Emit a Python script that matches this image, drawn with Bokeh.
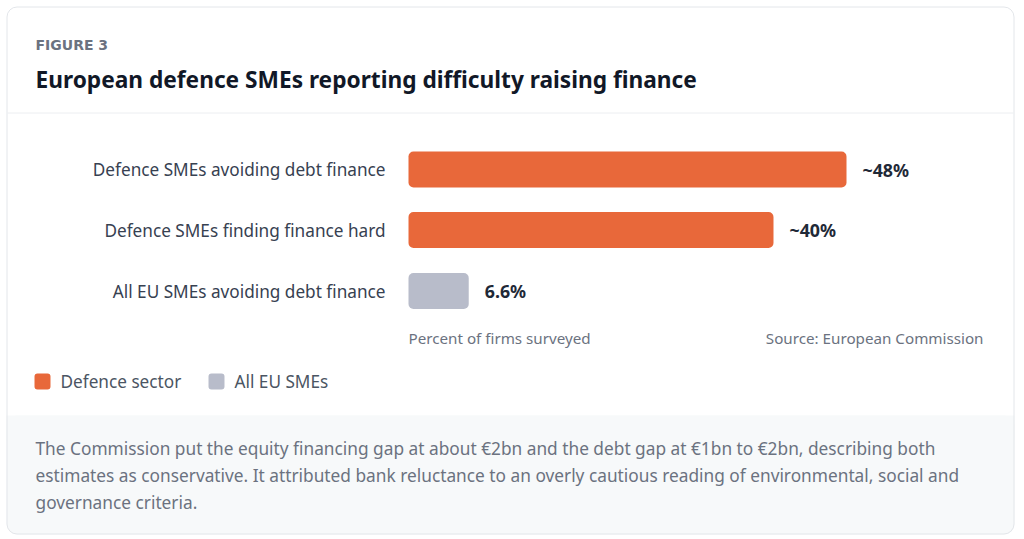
from bokeh.plotting import figure
from bokeh.models import Range1d, ColumnDataSource
from bokeh.core.properties import value
from bokeh.embed import file_html
from bokeh.resources import INLINE

# ---- data ----
categories = ["Defence SMEs avoiding debt finance",
              "Defence SMEs finding finance hard",
              "All EU SMEs avoiding debt finance"]
values = [48, 40, 6.6]
value_labels = ["~48%", "~40%", "6.6%"]
groups = ["Defence sector", "Defence sector", "All EU SMEs"]
legend_labels = ["Defence sector", "All EU SMEs"]
legend_colors = ["#e8683a", "#b8bcca"]
fig_label = "FIGURE 3"
title = "European defence SMEs reporting difficulty raising finance"
axis_caption = "Percent of firms surveyed"
source_text = "Source: European Commission"
note_lines = [
    "The Commission put the equity financing gap at about \u20ac2bn and the debt gap at \u20ac1bn to \u20ac2bn, describing both",
    "estimates as conservative. It attributed bank reluctance to an overly cautious reading of environmental, social and",
    "governance criteria.",
]

FONT = "Noto Sans"
W, H = 1018, 536
color_map = dict(zip(legend_labels, legend_colors))

p = figure(width=W, height=H, output_backend="svg", toolbar_location=None,
           x_range=Range1d(0, W), y_range=Range1d(H, 0),
           x_axis_location=None, y_axis_location=None, min_border=0,
           tools="")
p.grid.visible = False
p.outline_line_color = None
p.background_fill_color = "white"
p.border_fill_color = "white"

# percent scale: 0 at px 408, 48% at px 846
px0, px_per = 408.0, (846.0 - 408.0) / 48.0
p.extra_x_ranges = {"pct": Range1d((0 - px0) / px_per, (W - px0) / px_per)}

# ---- card ----
p.quad(left=[6], right=[1014], top=[6], bottom=[534], fill_color="white",
       line_color=None, border_radius=10)
p.quad(left=[6], right=[1014], top=[415], bottom=[534], fill_color="#f7f9fa",
       line_color=None, border_radius=10)
p.quad(left=[6], right=[1014], top=[415], bottom=[440], fill_color="#f7f9fa",
       line_color=None)
p.quad(left=[6.5], right=[1013.5], top=[6.5], bottom=[533.5], fill_color=None,
       line_color="#e3e6ea", line_width=1, border_radius=10)
p.segment(x0=[7], x1=[1013], y0=[112.5], y1=[112.5], line_color="#eceef1", line_width=1)

# ---- header ----
p.text(x=[35], y=[44], text=[fig_label], text_font=value("DejaVu Sans"), text_font_size="14px",
       text_font_style="bold", text_color="#6b7280", text_baseline="middle")
p.text(x=[35], y=[79], text=[title], text_font=value(FONT), text_font_size="22.7px",
       text_font_style="bold", text_color="#111827", text_baseline="middle")

# ---- bars ----
ys = [169, 229.5, 290.5]
src = ColumnDataSource(dict(y=ys, v=values, cat=categories, lab=value_labels,
                            col=[color_map[g] for g in groups]))
p.hbar(y="y", left=0, right="v", height=36, fill_color="col", line_color=None,
       border_radius=5, source=src, x_range_name="pct")
p.text(x=385, y="y", text="cat", source=src, text_font=value(FONT), text_font_size="17.2px",
       text_color="#374151", text_align="right", text_baseline="middle")
p.text(x="v", y="y", text="lab", source=src, x_range_name="pct", x_offset=16,
       text_font=value(FONT), text_font_size="17.8px", text_font_style="bold",
       text_color="#1f2937", text_baseline="middle")

p.text(x=[0], y=[337], text=[axis_caption], x_range_name="pct", text_font=value(FONT),
       text_font_size="15.2px", text_color="#6b7280", text_baseline="middle")
p.text(x=[983], y=[337], text=[source_text], text_font=value(FONT),
       text_font_size="15.2px", text_color="#6b7280", text_baseline="middle", text_align="right")

# ---- legend ----
lx = [34, 208]
p.quad(left=lx, right=[x + 16 for x in lx], top=[373, 373], bottom=[389, 389],
       fill_color=legend_colors, line_color=None, border_radius=3)
p.text(x=[x + 26 for x in lx], y=[381, 381], text=legend_labels, text_font=value(FONT),
       text_font_size="17.2px", text_color="#4b5563", text_baseline="middle")

# ---- note ----
p.text(x=[35] * len(note_lines), y=[448, 475, 502], text=note_lines, text_font=value(FONT),
       text_font_size="17.3px", text_color="#6b7280", text_baseline="middle")

open("out.html", "w").write(file_html(p, INLINE))
